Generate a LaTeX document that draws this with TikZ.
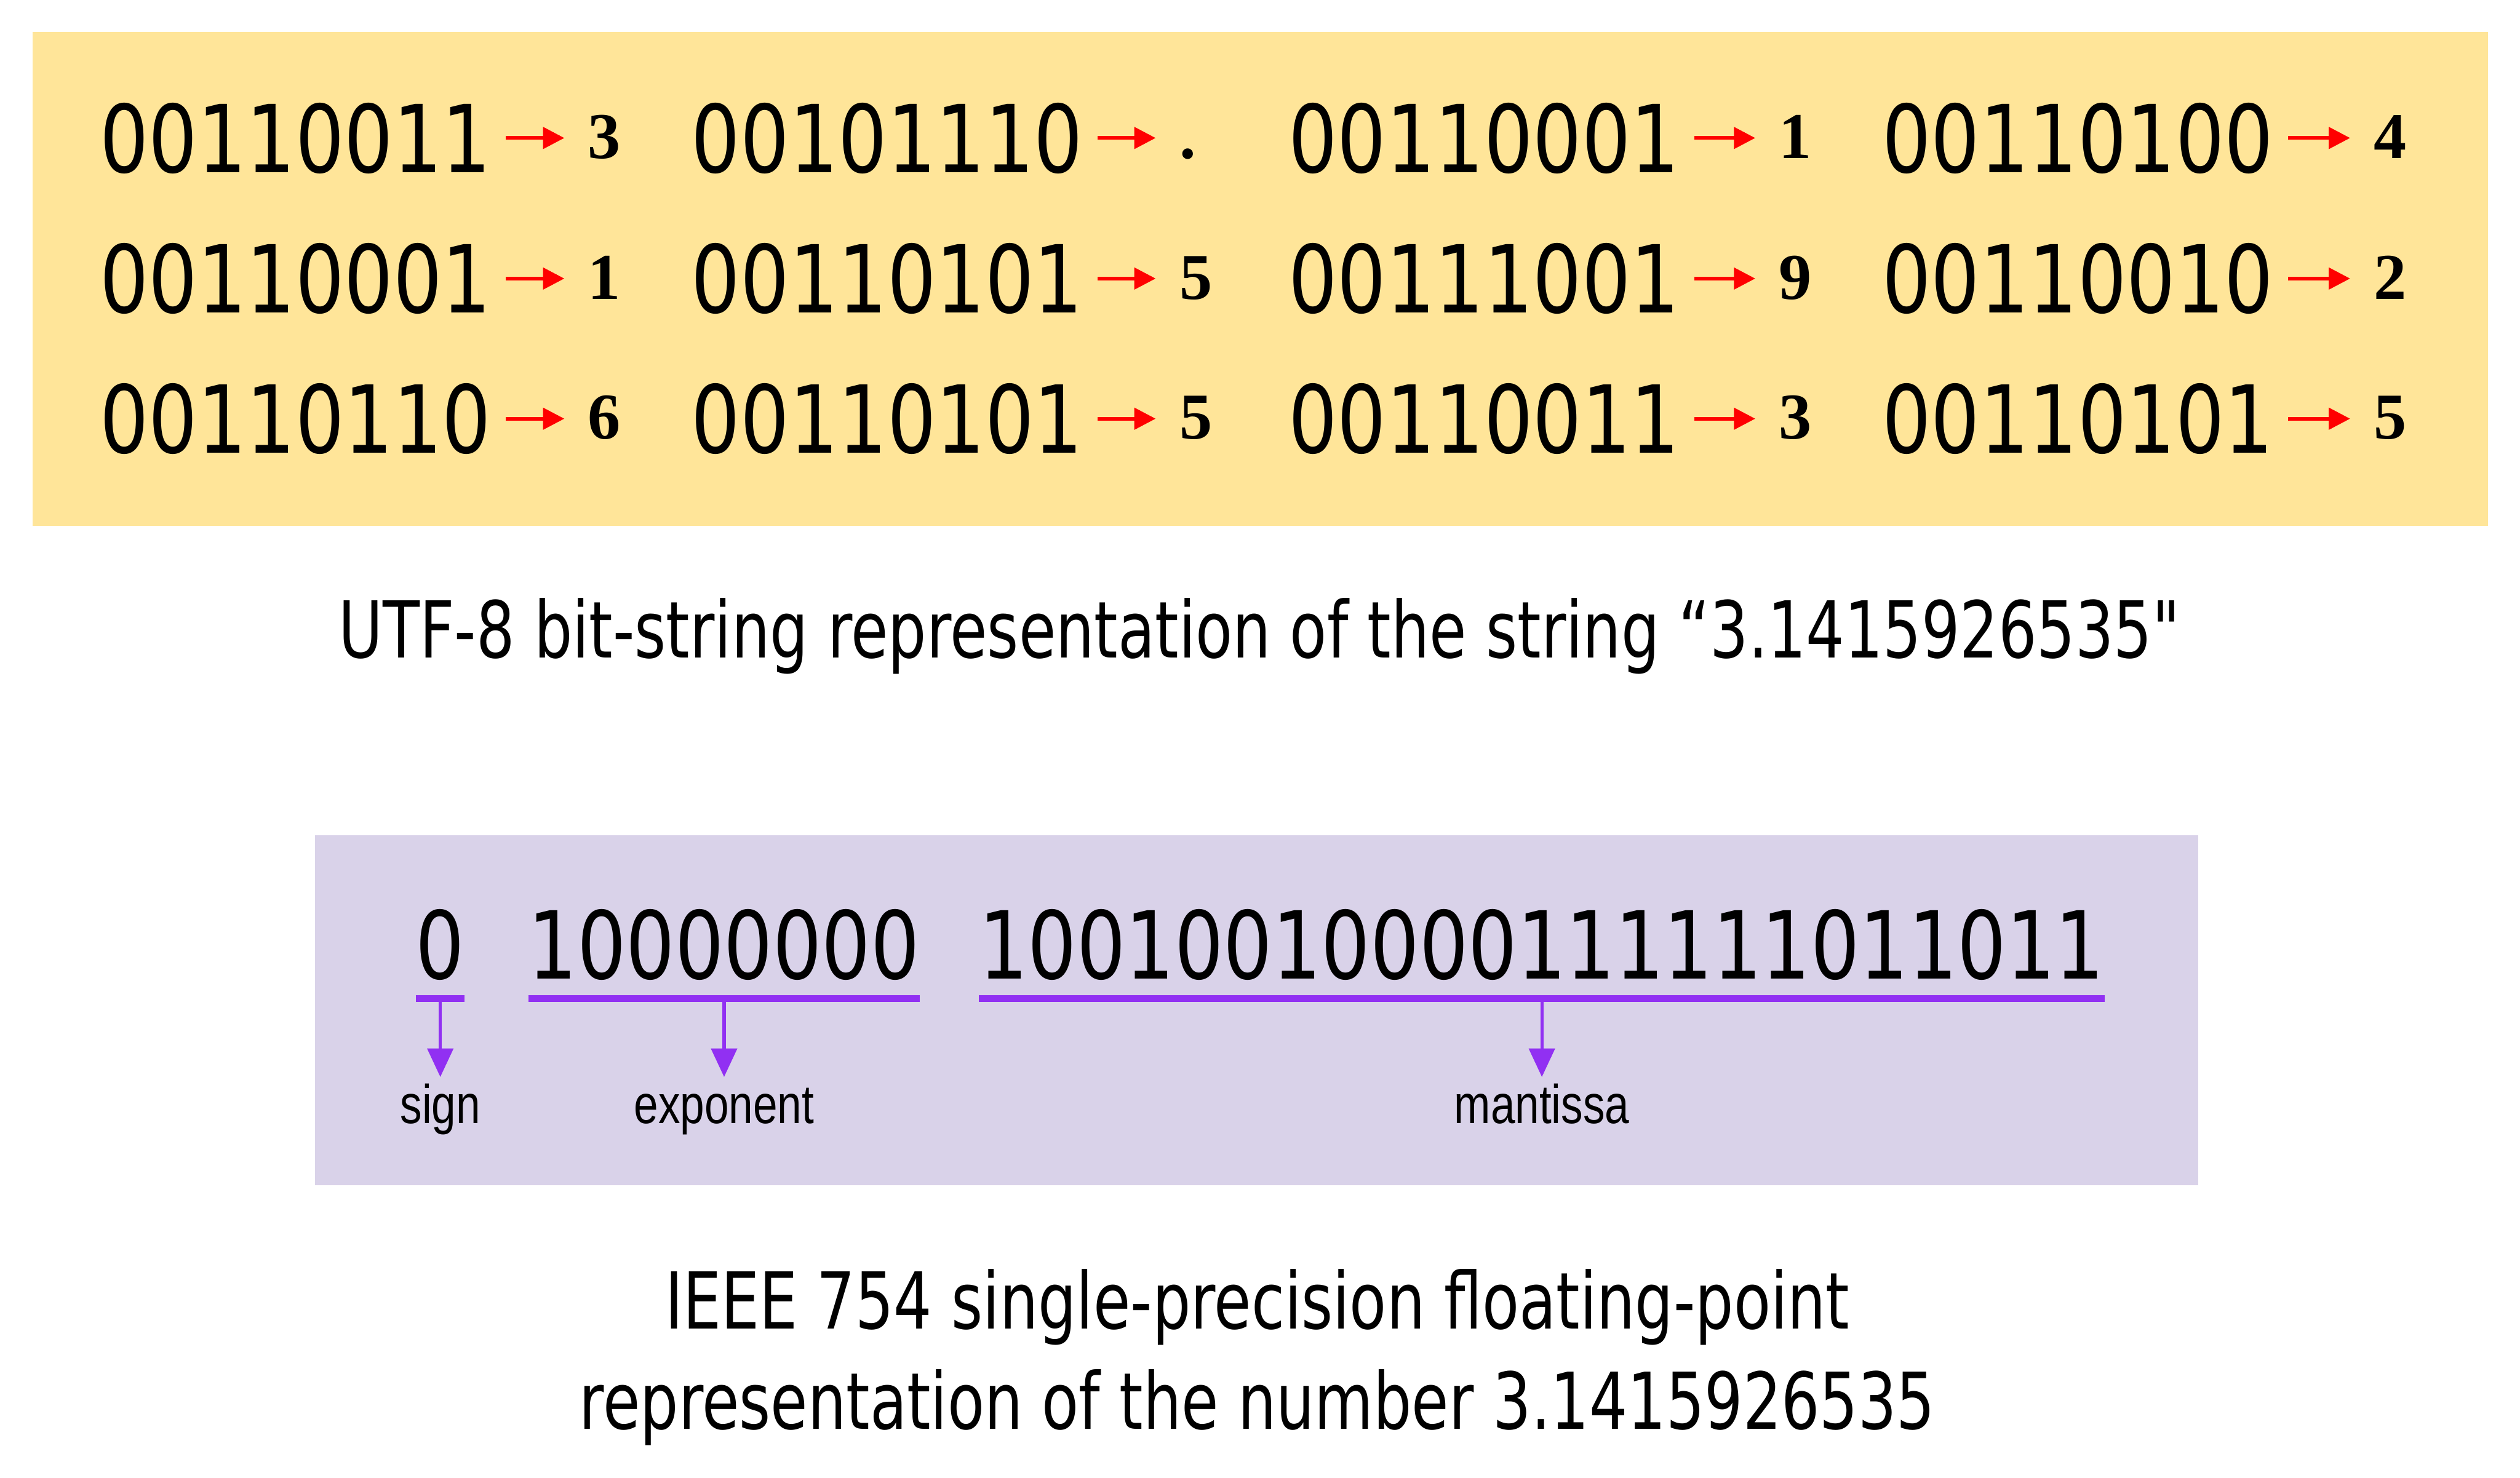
\documentclass[tikz,border=0pt]{standalone}
\usepackage{fontspec}
\usepackage{tikz}
\usetikzlibrary{arrows.meta, positioning}

\newfontfamily\bitfont[FakeStretch=0.82]{DejaVu Sans}
\newfontfamily\capfont[FakeStretch=0.77]{DejaVu Sans}
\newfontfamily\labfont[FakeStretch=0.80]{Liberation Sans}
\newfontfamily\chrfont{Liberation Serif}

\definecolor{utfyellow}{HTML}{FFE599}
\definecolor{ieeelilac}{HTML}{D9D2E9}
\definecolor{ieeeviolet}{HTML}{9130F2}

\begin{document}
\begin{tikzpicture}[
    bits/.style={inner sep=0, outer sep=0, anchor=base west,
                 text height=1.73cm, text depth=0pt,
                 font=\bitfont\fontsize{67.4}{70}\selectfont},
    chr/.style={inner sep=0, outer sep=0, anchor=base west,
                text height=1.12cm, text depth=0pt,
                font=\chrfont\bfseries\fontsize{47}{50}\selectfont},
    caption/.style={inner sep=0, anchor=base, align=center,
                    font=\capfont\fontsize{56.4}{72.3}\selectfont},
    lab/.style={inner sep=0, text height=1.0cm, text depth=0.25cm,
                font=\labfont\fontsize{39.3}{40}\selectfont},
    utfarrow/.style={red, line width=0.09cm, shorten <=0.37cm, shorten >=0.6cm,
                     -{Triangle[length=0.54cm, width=0.54cm]}},
    ieeearrow/.style={ieeeviolet, line width=0.08cm, shorten >=0.16cm,
                      -{Triangle[length=0.72cm, width=0.65cm]}},
    ieeebar/.style={ieeeviolet, line width=0.17cm},
  ]
  \useasboundingbox (0,0) rectangle (63.63,-37.32);

  % UTF-8 panel
  \fill[utfyellow] (0.82,-0.80) rectangle (62.82,-13.28);
  \foreach \n/\x/\rx/\y/\b/\v in {
      11/2.52/14.85/-4.35/00110011/3,  12/17.46/29.78/-4.35/00101110/.,
      13/32.53/44.92/-4.35/00110001/1, 14/47.52/59.94/-4.35/00110100/4,
      21/2.52/14.85/-7.90/00110001/1,  22/17.46/29.78/-7.90/00110101/5,
      23/32.53/44.92/-7.90/00111001/9, 24/47.52/59.94/-7.90/00110010/2,
      31/2.52/14.85/-11.44/00110110/6,  32/17.46/29.78/-11.44/00110101/5,
      33/32.53/44.92/-11.44/00110011/3, 34/47.52/59.94/-11.44/00110101/5} {
    \node[bits] (b\n) at (\x, \y) {\b};
    \node[chr] (c\n) at (\rx, \y+0.35) {\v};
    \draw[utfarrow] (b\n.east) -- (b\n.east -| c\n.west);
  }
  \node[caption] (utfcap) at (31.8,-16.62)
    {UTF-8 bit-string representation of the string “3.1415926535"};

  % IEEE 754 panel
  \fill[ieeelilac] (7.96,-21.09) rectangle (55.51,-29.93);
  \node[bits] (sgn) at (10.50,-24.72) {0};
  \node[bits] (expo) at (13.34,-24.72) {10000000};
  \node[bits] (mant) at (24.72,-24.72) {10010010000111111011011};
  \foreach \f/\t in {sgn/sign, expo/exponent, mant/mantissa} {
    \draw[ieeebar] ([yshift=-0.5cm]\f.south west) -- ([yshift=-0.5cm]\f.south east);
    \coordinate (\f bar) at ([yshift=-0.5cm]\f.south);
    \node[lab, below=2.14cm of \f bar] (\f lab) {\t};
    \draw[ieeearrow] (\f bar) -- (\f lab);
  }
  \node[caption] (ieeecap) at (31.75,-36.10)
    {IEEE 754 single-precision floating-point\\representation of the number 3.1415926535};
\end{tikzpicture}
\end{document}
